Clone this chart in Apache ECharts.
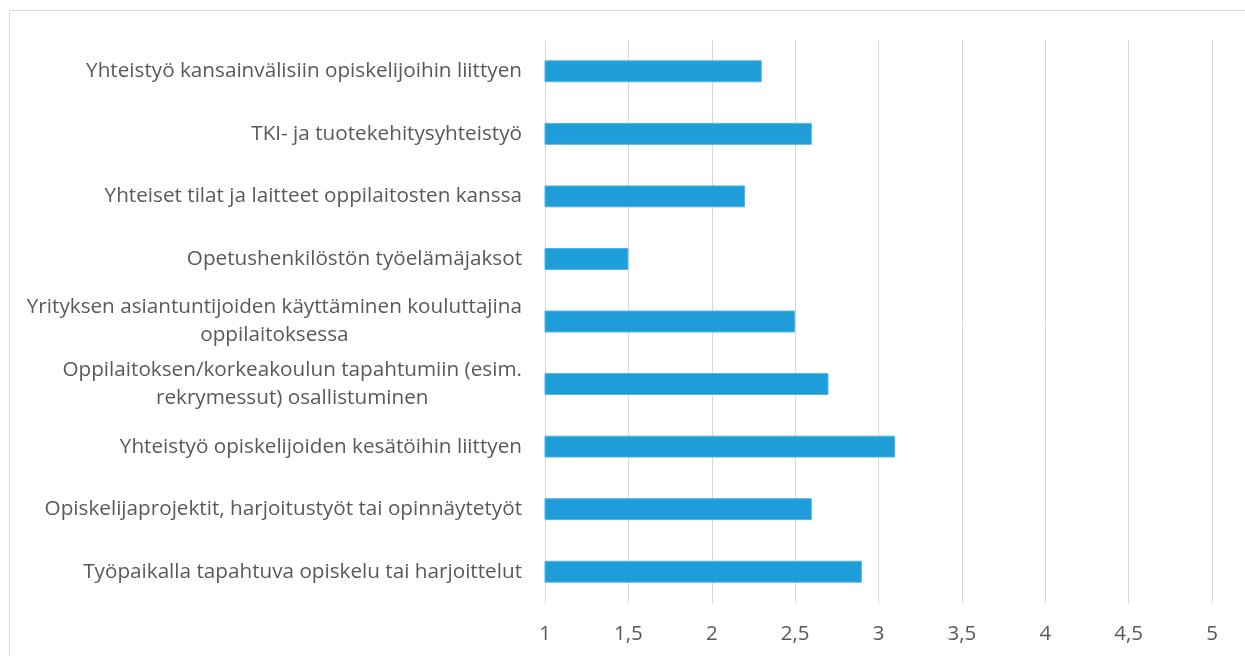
<!DOCTYPE html>
<html>
<head>
<meta charset="utf-8">
<script src="https://cdn.jsdelivr.net/npm/echarts@6/dist/echarts.min.js"></script>
<style>
	html, body { margin: 0; padding: 0; background: #fff; }
	#main { width: 1245px; height: 656px; }
</style>
</head>
<body>
<div id="main"></div>
<script>
	// categories bottom -> top (as the y axis draws them)
	var categories = [
		'Työpaikalla tapahtuva opiskelu tai harjoittelut',
		'Opiskelijaprojektit, harjoitustyöt tai opinnäytetyöt',
		'Yhteistyö opiskelijoiden kesätöihin liittyen',
		'Oppilaitoksen/korkeakoulun tapahtumiin (esim.\nrekrymessut) osallistuminen',
		'Yrityksen asiantuntijoiden käyttäminen kouluttajina\noppilaitoksessa',
		'Opetushenkilöstön työelämäjaksot',
		'Yhteiset tilat ja laitteet oppilaitosten kanssa',
		'TKI- ja tuotekehitysyhteistyö',
		'Yhteistyö kansainvälisiin opiskelijoihin liittyen'
	];
	var values = [2.9, 2.6, 3.1, 2.7, 2.5, 1.5, 2.2, 2.6, 2.3];
	var xTicks = [1, 1.5, 2, 2.5, 3, 3.5, 4, 4.5, 5];

	var chart = echarts.init(document.getElementById('main'));
	var font = '"Open Sans", "Liberation Sans", sans-serif';

	var option = {
		animation: false,
		textStyle: { fontFamily: font },
		graphic: [{
			type: 'rect',
			silent: true,
			shape: { x: 9.5, y: 10.5, width: 1300, height: 700 },
			style: { fill: 'none', stroke: '#d9d9d9', lineWidth: 1 }
		}],
		grid: { left: 545, right: 33, top: 40, bottom: 53 },
		xAxis: {
			type: 'value',
			min: xTicks[0],
			max: xTicks[xTicks.length - 1],
			interval: 0.5,
			axisLine: { show: false },
			axisTick: { show: false },
			splitLine: { lineStyle: { color: '#d9d9d9', width: 1 } },
			axisLabel: {
				color: '#595959',
				fontSize: 20.5,
				fontFamily: font,
				margin: 21,
				formatter: function (v) { return String(v).replace('.', ','); }
			}
		},
		yAxis: {
			type: 'category',
			data: categories,
			axisLine: { show: false },
			axisTick: { show: false },
			splitLine: { show: false },
			axisLabel: {
				color: '#595959',
				fontSize: 20.7,
				fontFamily: font,
				margin: 23,
				lineHeight: 28,
				formatter: function (v) {
					return v.split('\n').map(function (s) { return '{c|' + s + '}'; }).join('\n');
				},
				rich: {
					c: { align: 'center', color: '#595959', fontSize: 20.7, fontFamily: font, lineHeight: 28 }
				}
			}
		},
		series: [{
			type: 'bar',
			data: values,
			barWidth: '35%',
			itemStyle: { color: '#1e9dd8', borderColor: '#4fb5e4', borderWidth: 1 }
		}]
	};
	chart.setOption(option);
	window.addEventListener('resize', function () {
		chart.resize();
	});
</script>
</body>
</html>
